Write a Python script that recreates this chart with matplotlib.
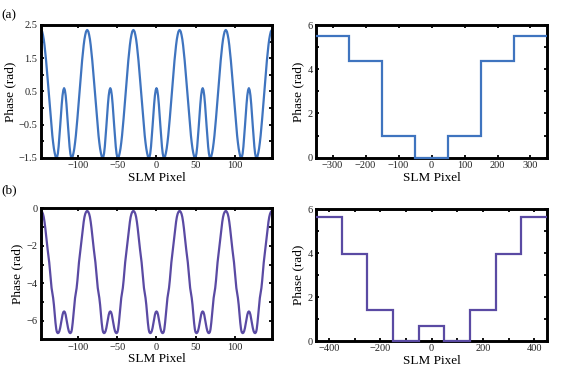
import numpy as np
import matplotlib
matplotlib.use("Agg")
import matplotlib.pyplot as plt
from matplotlib.ticker import FixedLocator

plt.rcParams['font.family'] = ['Liberation Serif', 'DejaVu Serif']
plt.rcParams['axes.unicode_minus'] = True

# one period of the continuous phase, read as offset from the small lobe centre
# (the profile is symmetric about each small lobe)
u_half = [0, 1, 2, 3, 4, 5, 6, 7, 8, 9, 9.5, 10, 11, 12, 13, 14, 15, 16, 17,
          18, 19, 20, 21, 22, 23, 24, 25, 26, 27, 28, 29, 29.5]
phase_a_half = [0.60, 0.54, 0.38, 0.12, -0.19, -0.54, -0.87, -1.16, -1.37, -1.48,
                -1.50, -1.49, -1.45, -1.35, -1.22, -1.04, -0.83, -0.58, -0.31,
                -0.02, 0.27, 0.58, 0.87, 1.16, 1.43, 1.67, 1.89, 2.07, 2.20,
                2.30, 2.34, 2.35]
phase_b_half = [-5.50, -5.54, -5.68, -5.90, -6.15, -6.38, -6.55, -6.64, -6.66, -6.62,
                -6.55, -6.45, -6.10, -5.65, -5.15, -4.78, -4.52, -4.25, -3.85,
                -3.35, -2.88, -2.52, -2.20, -1.85, -1.45, -1.05, -0.72, -0.46,
                -0.29, -0.19, -0.14, -0.13]
lobe_centres = [-118, -59, 0, 59, 118]

# quantised (stepped) phase
edges_a = [-350, -250, -150, -50, 50, 150, 250, 350]
levels_a = [5.52, 4.37, 0.97, 0.0, 0.97, 4.37, 5.52]
edges_b = [-450, -350, -250, -150, -50, 50, 150, 250, 350, 450]
levels_b = [5.62, 3.97, 1.41, 0.0, 0.70, 0.0, 1.41, 3.97, 5.62]

BLUE = '#3f74bf'
PURPLE = '#5a4aa3'


def full_curve(half):
    u = np.array(u_half)
    v = np.array(half)
    u_per = np.concatenate([-u[::-1], u[1:]])
    v_per = np.concatenate([v[::-1], v[1:]])
    x = np.concatenate([c + u_per for c in lobe_centres])
    y = np.concatenate([v_per for c in lobe_centres])
    return x, y


def style(ax, xmaj, ymaj, ymin):
    for s in ax.spines.values():
        s.set_linewidth(2.1)
        s.set_color('black')
    ax.xaxis.set_major_locator(FixedLocator(xmaj))
    ax.yaxis.set_major_locator(FixedLocator(ymaj))
    ax.yaxis.set_minor_locator(FixedLocator(ymin))
    ax.tick_params(which='both', direction='in', top=True, right=True,
                   length=2.5, width=1.3, labelsize=7.5, pad=2.5,
                   labelcolor='#222222')
    ax.set_xlabel('SLM Pixel', fontsize=9.5, labelpad=1)
    ax.set_ylabel('Phase (rad)', fontsize=9.5, labelpad=2)


fig = plt.figure(figsize=(5.75, 3.72), dpi=100)
ax1 = fig.add_axes([0.0713, 0.5753, 0.4017, 0.3575])
ax2 = fig.add_axes([0.5496, 0.5760, 0.4017, 0.3567])
ax3 = fig.add_axes([0.0713, 0.0874, 0.4017, 0.3522])
ax4 = fig.add_axes([0.5496, 0.0833, 0.4017, 0.3548])

xa, ya = full_curve(phase_a_half)
ax1.plot(xa, ya, color=BLUE, lw=1.6, solid_capstyle='round')
ax1.set_xlim(-147.5, 147.5)
ax1.set_ylim(-1.5, 2.5)
style(ax1, [-100, -50, 0, 50, 100], [-1.5, -0.5, 0.5, 1.5, 2.5], [-1, 0, 1, 2])
ax1.set_yticklabels(['−1.5', '−0.5', '0.5', '1.5', '2.5'])

ax2.stairs(levels_a, edges_a, baseline=None, color=BLUE, lw=1.6, zorder=5, clip_on=False)
ax2.set_xlim(-350, 350)
ax2.set_ylim(0, 6)
style(ax2, [-300, -200, -100, 0, 100, 200, 300], [0, 2, 4, 6], [1, 3, 5])

xb, yb = full_curve(phase_b_half)
ax3.plot(xb, yb, color=PURPLE, lw=1.6, solid_capstyle='round')
ax3.set_xlim(-147.5, 147.5)
ax3.set_ylim(-7, 0)
style(ax3, [-100, -50, 0, 50, 100], [-6, -4, -2, 0], [-5, -3, -1])

ax4.stairs(levels_b, edges_b, baseline=None, color=PURPLE, lw=1.6, zorder=5, clip_on=False)
ax4.set_xlim(-450, 450)
ax4.set_ylim(0, 6)
style(ax4, [-400, -200, 0, 200, 400], [0, 2, 4, 6], [1, 3, 5])
ax4.xaxis.set_minor_locator(FixedLocator([-300, -100, 100, 300]))

fig.text(0.003, 0.975, '(a)', fontsize=9.5, va='top', ha='left')
fig.text(0.003, 0.505, '(b)', fontsize=9.5, va='top', ha='left')

fig.savefig('out.png', dpi=100)
